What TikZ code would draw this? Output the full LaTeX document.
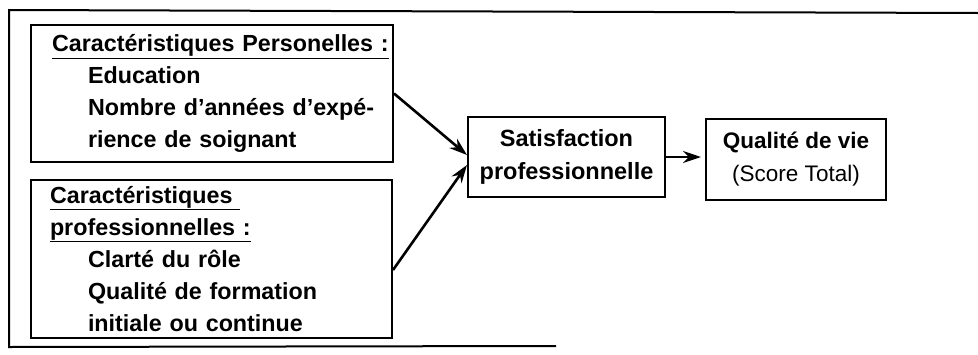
\documentclass[tikz,border=0pt]{standalone}
\usepackage{fontspec}
\setmainfont{Liberation Sans}
\usetikzlibrary{arrows.meta}

\begin{document}
\begin{tikzpicture}[x=1pt,y=-1pt,
  box/.style={draw, line width=2pt, inner sep=0pt, font=\fontsize{22.5}{33}\selectfont},
  listbox/.style={box, align=left, inner xsep=12pt, text width=#1, font=\fontsize{23.3}{32}\selectfont\bfseries},
  link/.style={line width=2.6pt, -{Stealth[length=18pt,width=12pt]}}]
\useasboundingbox (0,0) rectangle (978,354);
% open frame round the model
\draw[line width=2pt] (978,13) -- (9,10) -- (9,347) -- (556,346);
\node[listbox=338pt, minimum height=137pt] (pers) at (212,93.5)
  {\hspace*{9pt}\underline{Caractéristiques Personelles :}\\
   \hspace*{45pt}Education\\
   \hspace*{45pt}Nombre d’années d’expé-\\
   \hspace*{45pt}rience de soignant};
\node[listbox=337pt, minimum height=158pt] (prof) at (211.5,259)
  {\hspace*{7pt}\underline{Caractéristiques\ }\\
   \hspace*{7pt}\underline{professionnelles :}\\
   \hspace*{45pt}Clarté du rôle\\
   \hspace*{45pt}Qualité de formation\\
   \hspace*{45pt}initiale ou continue};
\node[box, align=center, minimum width=197pt, minimum height=80pt, font=\fontsize{23.5}{33}\selectfont\bfseries] (sat) at (566.5,157)
  {Satisfaction\\professionnelle};
\node[box, align=center, minimum width=180pt, minimum height=81pt] (qual) at (796,159.5)
  {\textbf{Qualité de vie}\\(Score Total)};
\draw[link] (pers.east) -- ([yshift=2pt]sat.west);
\draw[link] ([yshift=-11pt]prof.east) -- ([yshift=-8pt]sat.west);
\draw[link, shorten >=4pt] (sat.east) -- (sat.east -| qual.west);
\end{tikzpicture}
\end{document}
